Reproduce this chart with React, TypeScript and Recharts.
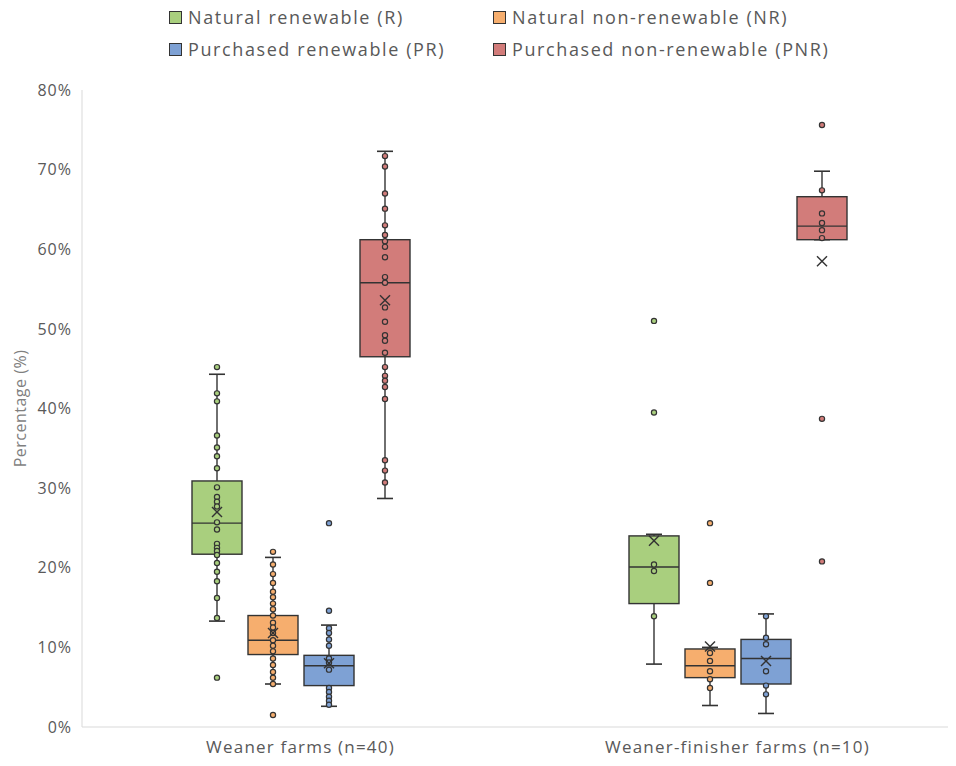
import React from 'react';
import { Bar, BarChart, XAxis, YAxis } from 'recharts';

const categories = ['Weaner farms (n=40)', 'Weaner-finisher farms (n=10)'];

const seriesKeys = ['R', 'NR', 'PR', 'PNR'];
const seriesNames = [
  'Natural renewable (R)',
  'Natural non-renewable (NR)',
  'Purchased renewable (PR)',
  'Purchased non-renewable (PNR)',
];
const seriesColors = ['#A9CF7E', '#F6AE6E', '#7EA1D4', '#D27C7A'];

const yTicks = [0, 10, 20, 30, 40, 50, 60, 70, 80];

// box stats per category: [whisker low, q1, median, q3, whisker high, mean]
const rBox = [
  [13.3, 21.7, 25.6, 30.9, 44.3, 27.0],
  [7.9, 15.5, 20.1, 24.0, 24.2, 23.4],
];
const nrBox = [
  [5.4, 9.1, 10.9, 14.0, 21.3, 11.8],
  [2.7, 6.2, 7.7, 9.8, 10.0, 10.1],
];
const prBox = [
  [2.6, 5.2, 7.7, 9.0, 12.8, 8.0],
  [1.7, 5.4, 8.6, 11.0, 14.2, 8.3],
];
const pnrBox = [
  [28.7, 46.5, 55.8, 61.2, 72.3, 53.6],
  [61.2, 61.2, 62.9, 66.6, 69.8, 58.5],
];

// individual farm values shown as dots
const rPoints = [
  [45.2, 41.9, 40.9, 36.6, 35.1, 34.0, 32.5, 30.1, 28.9, 28.3, 27.7, 25.7, 24.8, 23.0, 22.5, 22.1, 21.6, 20.6, 19.5, 18.3, 16.2, 13.7, 6.2],
  [51.0, 39.5, 20.4, 19.6, 13.9],
];
const nrPoints = [
  [22.0, 20.4, 19.2, 18.1, 17.0, 16.3, 15.5, 14.8, 14.0, 13.1, 12.5, 11.8, 10.9, 10.2, 9.5, 8.6, 7.8, 6.9, 6.2, 5.4, 1.5],
  [25.6, 18.1, 9.3, 8.3, 7.0, 6.0, 4.9],
];
const prPoints = [
  [25.6, 14.6, 12.4, 11.8, 11.0, 10.2, 8.6, 8.1, 7.2, 4.9, 4.4, 3.8, 3.3, 2.8],
  [13.9, 11.2, 10.4, 7.0, 5.2, 4.1],
];
const pnrPoints = [
  [71.7, 70.4, 67.0, 65.1, 63.0, 61.8, 61.0, 60.3, 59.0, 56.5, 55.8, 52.7, 50.9, 49.2, 48.5, 47.0, 45.2, 44.1, 43.5, 42.7, 41.2, 33.5, 32.2, 30.7],
  [75.6, 67.4, 64.5, 63.3, 62.4, 61.4, 38.7, 20.8],
];

const boxes = [rBox, nrBox, prBox, pnrBox];
const points = [rPoints, nrPoints, prPoints, pnrPoints];

const data = categories.map((name, i) => {
  const row: Record<string, any> = { name };
  seriesKeys.forEach((key, s) => {
    row[key] = { box: boxes[s][i], points: points[s][i] };
  });
  return row;
});

const FONT = '"Open Sans", "Noto Sans", sans-serif';
const INK = '#333333';

const BoxShape = (props: any) => {
  const { x, y, width, height, payload, seriesKey, color } = props;
  const stats = payload[seriesKey];
  const [lo, q1, med, q3, hi, mean] = stats.box;
  const top = Math.min(y, y + height);
  const span = Math.abs(height);
  const k = span / (hi - lo);
  const py = (v: number) => top + (hi - v) * k;
  const cx = x + width / 2;
  const cap = 8;
  const m = 5;
  return (
    <g>
      <line x1={cx} x2={cx} y1={py(hi)} y2={py(lo)} stroke={INK} strokeWidth={1.4} />
      <line x1={cx - cap} x2={cx + cap} y1={py(hi)} y2={py(hi)} stroke={INK} strokeWidth={1.6} />
      <line x1={cx - cap} x2={cx + cap} y1={py(lo)} y2={py(lo)} stroke={INK} strokeWidth={1.6} />
      <rect x={x} y={py(q3)} width={width} height={py(q1) - py(q3)} fill={color} stroke={INK} strokeWidth={1.4} />
      <line x1={x} x2={x + width} y1={py(med)} y2={py(med)} stroke={INK} strokeWidth={1.4} />
      {stats.points.map((v: number, j: number) => (
        <circle key={j} cx={cx} cy={py(v)} r={2.6} fill={color} stroke={INK} strokeWidth={1.2} />
      ))}
      <line x1={cx - m} x2={cx + m} y1={py(mean) - m} y2={py(mean) + m} stroke={INK} strokeWidth={1.4} />
      <line x1={cx - m} x2={cx + m} y1={py(mean) + m} y2={py(mean) - m} stroke={INK} strokeWidth={1.4} />
    </g>
  );
};

const LegendBlock = () => {
  const cols = [161, 485];
  const rows = [9, 41];
  return (
    <>
      {seriesNames.map((label, i) => (
        <div
          key={label}
          style={{
            position: 'absolute',
            left: cols[i % 2],
            top: rows[Math.floor(i / 2)] - 12,
            height: 24,
            display: 'flex',
            alignItems: 'center',
            fontFamily: FONT,
            fontSize: 18,
            letterSpacing: 1.6,
            color: '#595959',
            whiteSpace: 'nowrap',
          }}
        >
          <span
            style={{
              display: 'inline-block',
              width: 11,
              height: 11,
              background: seriesColors[i],
              border: `1px solid ${INK}`,
              marginRight: 6,
            }}
          />
          {label}
        </div>
      ))}
    </>
  );
};

export default function App() {
  return (
    <div style={{ position: 'relative', width: 948, height: 750 }}>
      <BarChart
        width={948}
        height={750}
        data={data}
        margin={{ top: 82, right: 0, bottom: 1, left: 0 }}
        barSize={50}
        barGap={6}
      >
        <XAxis
          dataKey="name"
          axisLine={{ stroke: '#d9d9d9' }}
          tickLine={false}
          tickSize={6}
          tickMargin={8}
          height={30}
          tick={{ fill: '#595959', fontSize: 17, fontFamily: FONT, letterSpacing: 1.2, style: { letterSpacing: '1.2px' } }}
        />
        <YAxis
          domain={[0, 80]}
          ticks={yTicks}
          interval={0}
          width={74}
          axisLine={{ stroke: '#d9d9d9' }}
          tickLine={false}
          tickSize={0}
          tickMargin={10}
          tickFormatter={(v) => `${v}%`}
          tick={{ fill: '#595959', fontSize: 16, fontFamily: FONT, letterSpacing: 1, style: { letterSpacing: '1px' } }}
          label={{
            value: 'Percentage (%)',
            angle: -90,
            position: 'insideLeft',
            offset: 12,
            style: { textAnchor: 'middle', fill: '#7f7f7f', fontSize: 16, fontFamily: FONT, letterSpacing: '0.5px' },
          }}
        />
        {seriesKeys.map((key, s) => (
          <Bar
            key={key}
            dataKey={(row: any) => [row[key].box[0], row[key].box[4]]}
            name={seriesNames[s]}
            fill={seriesColors[s]}
            isAnimationActive={false}
            shape={(p: any) => <BoxShape {...p} seriesKey={key} color={seriesColors[s]} />}
          />
        ))}
      </BarChart>
      <LegendBlock />
    </div>
  );
}
